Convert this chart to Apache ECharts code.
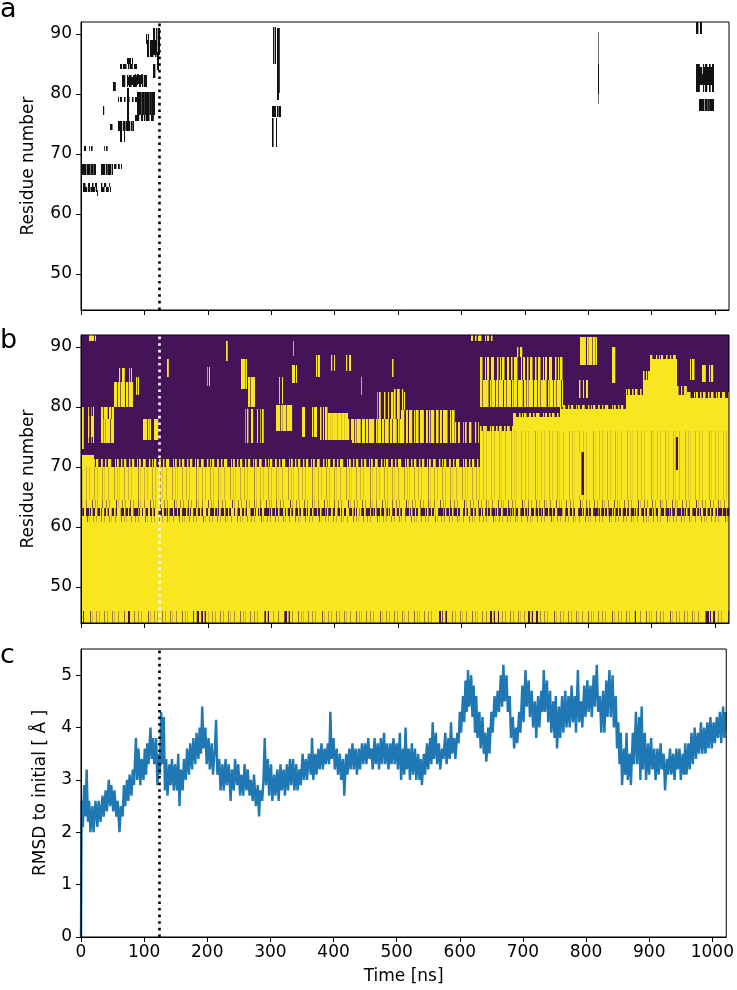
<!DOCTYPE html>
<html><head><meta charset="utf-8">
<script src="https://cdn.jsdelivr.net/npm/echarts@6/dist/echarts.min.js"></script>
<style>html,body{margin:0;padding:0;background:#fff}#c{width:737px;height:990px}</style>
</head><body><div id="c"></div>
<script>
// ---------- axes / ticks ----------
const timeTicks = [0,100,200,300,400,500,600,700,800,900,1000];
const residueTicks = [50,60,70,80,90];
const rmsdTicks = [0,1,2,3,4,5];
const timeMax = 1022;
const residueMin = 44, residueMax = 92;
const rmsdMax = 5.5;
const markerTime = 123.5;
const panelLetters = ['a','b','c'];

// ---------- panel a: dark blocks [tStart, tEnd, resLow, resHigh, darkness] ----------
const aBlocks = [
 [1,24,66.5,68.4,0.9],[4,20,70.5,71.4,0.4],[3,25,64.5,65.2,0.5],[3,25,63.6,64.5,0.85],[25,28,63,64,0.3],
 [31,51,66.5,68.4,0.85],[37,44,70.5,71.4,0.4],[31,47,64.5,65.2,0.45],[31,47,63.6,64.5,0.7],
 [52,64,67.5,68.4,0.6],[34,40,76.5,78,0.3],[51,57,80.5,82,0.4],[46,52,74,75,0.5],
 [59,84,73.8,75.5,0.85],[61,70,72,73.8,0.5],[61,88,84.2,85,0.7],[72,82,85,86,0.8],
 [64,104,81.2,83.1,0.65],[72,90,81.5,82.8,0.95],[59,88,78.6,79.5,0.5],[72,76,75.5,81,0.7],
 [88,117,76.5,80.3,0.95],[85,117,75.5,76.5,0.7],[85,98,81.7,83.3,0.5],
 [104,120,86.2,89,0.7],[103,108,88.3,90,0.6],[114,124,86.5,91,0.7],[114,120,82.6,85,0.6],[120,124,84,87,0.5],
 [302.5,307.7,85,91.1,0.7],[309,316.7,79,91,0.4],[311,315,80.2,91,0.6],[302,316,76.1,78,0.8],[301,309,71.1,76,0.4],
 [815,818,78.3,90.3,0.3],[815.5,817.5,80,85,0.55],
 [970.5,979.5,90,92,0.6],[970.5,999,80.3,85,0.55],[972,999,81.5,83.3,1.0],[972,999,83.3,84.5,0.75],[974,999,77.2,79.2,0.9]
];

// ---------- panel b: contact map (yellow fraction) ----------
// top of the solid yellow bulk: [tStart, tEnd, resTop]
const bBulkTop = [
 [0,20,72],[20,630,70],[630,682,73.5],[682,755,78.3],[755,860,79.6],[860,886,82],
 [886,897,84.5],[897,940,88],[940,955,82],[955,1022,81.5]
];
// streaky fringe above the bulk: [tStart, tEnd, resLow, resHigh, fraction]
const bFringe = [
 [20,630,70,71.3,0.45],[630,682,73.5,76.8,0.55],[682,755,78.3,79,0.5],[755,860,79.6,80.4,0.45],
 [860,886,82,83,0.5],[886,897,84.5,86,0.5],[897,940,88,88.6,0.4],[940,955,82,83.5,0.4],[955,1022,81.5,82.5,0.5]
];
// faint texture inside the bulk: [tStart, tEnd, resLow, resHigh, fraction]
const bBulkTexture = [
 [0,630,64.5,70,0.94],[630,1022,64.5,76,0.95],[0,1022,60.8,61.8,0.9],[0,1022,63.1,64.5,0.88],
 [375,379,68,70,0.4],[785,793,65.4,72.5,0.4],[936,942,69.5,75,0.35]
];
// dark band near residue 62-63: [tStart, tEnd, fraction]
const bBand = [
 [0,30,0.4],[30,60,0.55],[60,95,0.35],[95,130,0.5],[130,165,0.3],[165,200,0.45],[200,240,0.35],
 [240,280,0.5],[280,320,0.3],[320,360,0.45],[360,400,0.3],[400,440,0.5],[440,480,0.3],[480,520,0.45],
 [520,560,0.35],[560,600,0.3],[600,640,0.5],[640,680,0.3],[680,720,0.4],[720,760,0.3],[760,800,0.45],
 [800,840,0.3],[840,880,0.35],[880,920,0.45],[920,960,0.3],[960,1000,0.4],[1000,1022,0.2]
];
// bottom rows speckle: [tStart, tEnd, fraction]
const bBottom = [
 [0,1022,0.9],[0,5,0.4],[70,80,0.6],[175,200,0.55],[285,300,0.6],[315,330,0.55],[560,580,0.6],
 [640,660,0.6],[700,720,0.6],[870,880,0.6],[980,1000,0.5]
];
// yellow patches in the purple region: [tStart, tEnd, resLow, resHigh, fraction]
const bPatches = [
 [13,24,91,92,0.85],[2,20,74,80,0.3],[0,11,73,76,0.4],[11,21,75,78.5,0.45],
 [52,82,80,84.2,0.8],[60,80,84.2,86.5,0.4],[31,52,78,80,0.75],[31,52,74,78,0.85],
 [87,92,82,85,0.65],[98,110,74.5,78,0.85],[115,124,74.5,78,0.7],[135,139,85,88,0.6],
 [198,203,83.5,86.6,0.35],[228,232,87.6,91,0.35],
 [253,262,83,88,0.9],[263,276,80,85,0.8],[258,290,74,79.7,0.35],[313,318,80.5,85,0.3],
 [333,340,84,87,0.75],[334,338,88.5,91,0.4],[307,335,76,80.3,0.85],[348,356,75,80,0.5],
 [364,374,75,80,0.6],[371,377,85,88.7,0.65],[394,400,86,88.6,0.4],[377,390,74.5,80,0.5],
 [390,421,74.5,79,0.95],[418,428,86,88.6,0.4],[421,427,74.5,78,0.4],[427,505,74,78,0.75],
 [442,445,82,85,0.4],[490,493,85,88,0.3],
 [467,514,78,82.5,0.35],[493,509,78,83,0.55],[505,590,74,79.5,0.65],[590,630,74,77.5,0.4],
 [615,650,91,92,0.5],[630,760,80,84.5,0.8],[630,760,84.5,88.3,0.5],[688,700,88.3,90,0.45],
 [787,814,87,91.7,0.85],[837,843,84,90,0.55],[786,800,81.5,84.5,0.35],
 [961,972,84.5,88,0.5],[979,998,84.2,87,0.55]
];

// ---------- panel c: RMSD ----------
const rmsdTime = [0,1,3,5,7,9,11,13,15,18,20,23,26,28,31,34,36,39,41,44,46,48,51,53,56,58,61,63,66,68,70,73,75,77,80,82,84,87,89,91,94,96,99,101,103,105,107,110,112,114,116,119,121,123,125,127,129,131,133,135,137,140,142,144,147,149,152,154,156,158,161,163,166,168,171,173,176,178,181,183,186,188,190,192,194,197,199,202,204,207,209,212,214,216,219,221,224,226,229,231,234,237,239,242,244,247,249,252,254,257,259,262,264,267,269,272,274,277,280,282,284,287,289,291,293,296,298,301,303,306,308,311,313,316,318,321,323,326,328,331,333,336,338,341,343,346,348,351,353,356,358,361,364,366,368,371,373,376,378,381,383,386,388,391,393,395,397,400,402,405,407,410,412,415,417,420,422,425,427,430,432,435,437,440,442,445,447,450,452,455,457,460,462,465,467,470,472,475,477,480,482,485,487,490,492,495,497,500,502,505,507,510,512,514,516,519,521,524,526,529,531,534,536,538,540,543,545,548,550,553,555,557,559,562,564,567,569,572,574,577,579,582,584,586,588,591,593,596,598,600,602,605,607,609,611,613,615,618,620,622,624,626,628,631,633,636,638,640,642,645,647,650,652,655,657,660,662,665,667,669,671,674,676,679,681,684,686,689,691,694,696,699,701,704,706,709,711,714,716,719,721,724,726,729,731,733,735,738,740,743,745,748,750,752,754,757,759,762,764,767,769,772,774,777,779,782,784,787,789,792,794,797,799,802,804,807,809,812,814,817,819,822,824,827,829,832,834,837,839,842,844,847,849,851,853,855,857,860,862,864,866,869,871,874,876,879,881,884,886,888,890,893,895,898,900,903,905,908,910,913,915,918,920,923,925,928,930,933,935,938,940,943,945,948,950,953,955,957,959,962,964,967,969,972,974,977,979,982,984,987,989,992,994,997,999,1002,1004,1007,1009,1012,1014,1017,1019,1021];
const rmsdValue = [0,2.6,2.1,2.9,2.3,3.2,2.2,2.6,2.0,2.5,2.0,2.6,2.1,2.6,2.2,2.7,2.3,2.8,2.4,3.0,2.5,2.9,2.4,2.8,2.3,2.6,2.0,2.5,2.3,2.9,2.5,3.0,2.6,3.1,2.7,3.2,2.9,3.8,3.0,3.6,2.9,3.4,3.0,3.6,3.1,3.7,3.3,4.0,3.4,3.8,3.3,3.8,2.9,3.5,3.1,4.3,3.3,4.2,2.8,3.4,2.7,3.3,2.9,3.4,2.8,3.3,2.8,3.5,2.5,3.2,2.8,3.4,3.0,3.6,3.1,3.7,3.2,3.8,3.3,3.9,3.4,4.0,3.5,4.4,3.6,4.0,3.3,3.8,3.2,3.7,3.1,3.6,4.15,3.1,3.4,2.8,3.3,2.8,3.4,2.9,3.3,2.6,3.2,2.8,3.4,2.9,3.3,2.7,3.1,2.7,3.3,2.8,3.2,2.7,3.0,2.6,3.1,2.5,2.9,2.3,2.8,2.6,3.0,3.8,2.9,3.4,2.7,3.3,2.6,3.1,2.7,3.2,2.6,3.3,2.8,3.2,2.7,3.3,2.8,3.4,2.9,3.4,2.8,3.3,2.8,3.2,2.9,3.5,3.0,3.4,3.0,3.5,3.1,3.8,3.0,3.5,3.1,3.6,3.2,3.7,3.2,3.6,3.3,3.7,3.3,4.3,3.4,3.8,3.2,3.6,3.1,3.5,3.0,3.4,2.7,3.5,3.1,3.6,3.2,3.7,3.2,3.6,3.1,3.6,3.2,3.7,3.3,3.7,3.3,3.8,3.4,3.6,3.2,3.8,3.3,3.7,3.2,3.8,3.3,3.9,3.3,3.7,3.2,3.7,3.3,3.8,3.3,3.7,3.2,3.9,3.0,3.6,3.1,4.0,3.2,3.6,3.0,3.7,3.1,3.6,3.0,3.5,3.0,3.4,2.9,3.5,3.1,3.7,3.2,3.8,3.3,4.1,3.4,3.9,3.3,3.7,3.2,3.6,3.4,3.9,3.3,3.8,3.4,4.1,3.5,3.8,3.4,3.9,3.7,4.3,3.9,4.6,4.1,4.9,4.3,5.1,4.4,5.0,4.2,4.8,3.9,4.6,3.8,4.3,3.6,4.2,3.5,3.9,3.35,4.0,3.5,4.3,3.9,4.6,4.2,4.7,4.3,5.0,4.4,5.2,4.5,5.0,4.3,4.6,3.8,4.2,3.6,4.0,3.7,4.3,3.9,4.8,4.1,5.1,4.4,4.9,4.2,4.7,4.0,4.5,3.8,4.6,4.0,4.7,4.3,5.1,4.3,4.9,4.1,4.7,3.9,4.5,3.8,4.6,3.6,4.4,3.8,4.6,3.9,4.7,4.0,4.6,4.0,4.8,4.1,4.6,3.9,5.1,4.1,4.5,4.0,4.8,4.2,4.9,4.3,4.8,4.2,5.0,4.4,5.2,4.3,4.6,3.9,4.7,3.9,4.9,4.2,5.1,4.2,5.0,4.0,4.6,3.6,4.1,3.3,3.9,2.9,3.6,3.1,3.9,3.0,3.5,2.9,3.9,3.3,4.3,3.3,4.2,3.0,4.4,3.2,3.9,3.0,3.7,3.1,3.8,3.2,3.6,3.0,3.6,3.1,3.7,3.2,3.5,2.8,3.4,3.1,3.6,3.1,3.5,3.0,3.6,3.2,3.6,3.0,3.5,3.1,3.7,3.1,3.7,3.2,3.9,3.3,4.0,3.4,3.9,3.5,4.1,3.5,4.0,3.5,4.1,3.6,4.2,3.6,4.1,3.7,4.2,3.8,4.3,3.7,4.4,3.8,4.3];

// ---------- styling helpers ----------
const FONT = 'DejaVu Sans';
const PURPLE = 'rgb(69,20,88)', YELLOW = 'rgb(250,230,32)';
const STRIPE_PERIODS = [3,5,2,4,6,3,2,5,4,3,7,2,4,3,5]; // px, irregular streak spacing (texture only)

// build rectangle lists from the named arrays
const panelA = aBlocks.slice();
const panelB = [[0,timeMax,residueMin,residueMax,0]];
bBulkTop.forEach(s=>panelB.push([s[0],s[1],residueMin,s[2],1]));
bFringe.forEach(s=>panelB.push(s));
bBulkTexture.forEach(s=>panelB.push(s));
bBand.forEach(s=>panelB.push([s[0],s[1],61.8,63.1,s[2]]));
bBottom.forEach(s=>panelB.push([s[0],s[1],residueMin,46,s[2]]));
bPatches.forEach(s=>panelB.push(s));
const rmsdData = rmsdTime.map((t,i)=>[t,rmsdValue[i]]);

// draws a cell: base colour plus vertical streaks whose width share equals the value
function stripedRenderer(baseColor, inkColor){
  return function(params, api){
    const p0 = api.coord([api.value(0), api.value(3)]);
    const p1 = api.coord([api.value(1), api.value(2)]);
    const v = api.value(4);
    const x0 = Math.round(p0[0]), x1 = Math.max(Math.round(p1[0]), Math.round(p0[0])+1);
    const y0 = Math.round(p0[1]), y1 = Math.round(p1[1]);
    const h = y1 - y0;
    const children = [];
    if (baseColor && v < 0.999) children.push({type:'rect', shape:{x:x0,y:y0,width:x1-x0,height:h}, style:{fill:baseColor}});
    if (v >= 0.999) {
      children.push({type:'rect', shape:{x:x0,y:y0,width:x1-x0,height:h}, style:{fill:inkColor}});
    } else if (v > 0.001) {
      let k = (params.dataIndex * 7 + x0) % STRIPE_PERIODS.length;
      for (let x = x0; x < x1; ) {
        const P = STRIPE_PERIODS[k % STRIPE_PERIODS.length]; k++;
        const w = Math.min(v*P, x1-x);
        children.push({type:'rect', shape:{x:x,y:y0,width:w,height:h}, style:{fill:inkColor}});
        x += P;
      }
    }
    return {type:'group', children:children};
  };
}
function dotted(color){
  return {silent:true, symbol:['none','none'], label:{show:false}, animation:false,
    lineStyle:{color:color, type:[2.6,4], width:2.6, opacity:1},
    emphasis:{disabled:true}, data:[{xAxis: markerTime}]};
}
const textStyle = {color:'#000', fontFamily:FONT, fontSize:17};
const gridBase = {left:81, width:648, height:288, show:true, borderColor:'#000', borderWidth:1, backgroundColor:'transparent', z:10};
function pick(ticks){ return v => ticks.indexOf(Math.round(v*1000)/1000) >= 0 ? String(v) : ''; }
function xAx(idx, labels){
  return {gridIndex:idx, type:'value', min:0, max:timeMax, z:10,
    axisLine:{show:true, onZero:false, lineStyle:{color:'#000', width:1}},
    axisTick:{show:true, customValues:timeTicks, length:5, lineStyle:{color:'#000', width:1}},
    axisLabel:{show:labels, customValues:timeTicks, formatter:pick(timeTicks), margin:7, ...textStyle},
    splitLine:{show:false},
    name: labels ? 'Time [ns]' : '', nameLocation:'middle', nameGap:31, nameTextStyle:{...textStyle}};
}
function yAx(idx, min, max, ticks, name, gap){
  return {gridIndex:idx, type:'value', min:min, max:max, z:10,
    axisLine:{show:true, onZero:false, lineStyle:{color:'#000', width:1}},
    axisTick:{show:true, customValues:ticks, length:5, lineStyle:{color:'#000', width:1}},
    axisLabel:{show:true, customValues:ticks, formatter:pick(ticks), margin:9, ...textStyle},
    splitLine:{show:false},
    name:name, nameLocation:'middle', nameGap:gap, nameRotate:90, nameTextStyle:{...textStyle}};
}

const chart = echarts.init(document.getElementById('c'), null, {renderer:'canvas', width:737, height:990});
chart.setOption({
  animation:false,
  backgroundColor:'#fff',
  grid:[{...gridBase, top:22},{...gridBase, top:335},{...gridBase, top:649}],
  xAxis:[xAx(0,false), xAx(1,false), xAx(2,true)],
  yAxis:[
    yAx(0, residueMin, residueMax, residueTicks, 'Residue number', 44),
    yAx(1, residueMin, residueMax, residueTicks, 'Residue number', 44),
    yAx(2, 0, rmsdMax, rmsdTicks, 'RMSD to initial [ Å ]', 32)
  ],
  series:[
    {type:'custom', name:'a', xAxisIndex:0, yAxisIndex:0, clip:true, silent:true,
     encode:{x:[0,1], y:[2,3]}, renderItem:stripedRenderer(null, '#111'), data:panelA, markLine:dotted('#000')},
    {type:'custom', name:'b', xAxisIndex:1, yAxisIndex:1, clip:true, silent:true,
     encode:{x:[0,1], y:[2,3]}, renderItem:stripedRenderer(PURPLE, YELLOW), data:panelB, markLine:dotted('#fff')},
    {type:'line', name:'RMSD', xAxisIndex:2, yAxisIndex:2, data:rmsdData, showSymbol:false, symbol:'none',
     lineStyle:{color:'#1f77b4', width:2.4}, itemStyle:{color:'#1f77b4'}, clip:true, silent:true,
     markLine:dotted('#000')}
  ],
  graphic: panelLetters.map((L,i)=>({type:'text', left:0, top:[-4, 327, 642][i],
     style:{text:L, fontFamily:FONT, fontSize:27, fill:'#000'}}))
});
</script></body></html>
